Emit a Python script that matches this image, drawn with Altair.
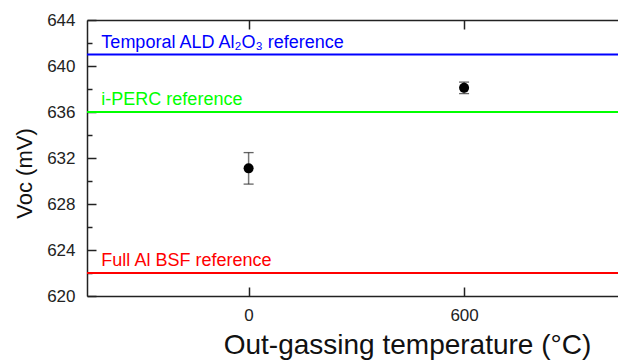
import altair as alt
import pandas as pd

# ---- data ----
temps = [0, 600]
voc = [631.1, 638.1]
voc_err = [1.37, 0.5]

ref_names = ["Temporal ALD Al₂O₃ reference", "i-PERC reference", "Full Al BSF reference"]
ref_values = [641, 636, 622]
ref_colors = ["#0000ff", "#00ff00", "#ff0000"]

x_ticks = [0, 600]
y_major = [620, 624, 628, 632, 636, 640, 644]
y_all = [620, 622, 624, 626, 628, 630, 632, 634, 636, 638, 640, 642, 644]

X_DOMAIN = [-450, 1028.6]
Y_DOMAIN = [620, 644]
W, H = 531, 276
FONT = "Liberation Sans"
DARK = "#222222"

pts = pd.DataFrame({
    "t": temps,
    "v": voc,
    "lo": [a - b for a, b in zip(voc, voc_err)],
    "hi": [a + b for a, b in zip(voc, voc_err)],
})
refs = pd.DataFrame({"name": ref_names, "v": ref_values, "c": ref_colors})

xs = alt.Scale(domain=X_DOMAIN, nice=False, zero=False)
ys = alt.Scale(domain=Y_DOMAIN, nice=False, zero=False)

x_main = alt.Axis(values=x_ticks, ticks=False, tickSize=0, domain=True, domainColor=DARK,
                  domainWidth=1.5, grid=False,
                  labelFontSize=17, labelColor=DARK, labelFont=FONT, labelPadding=11,
                  title="Out-gassing temperature (°C)", titleFont=FONT, titleFontSize=28,
                  titleFontWeight="normal", titleColor="#111111",
                  titleX=320, titleY=57, titleBaseline="alphabetic", titleAnchor="middle")
y_main = alt.Axis(values=y_major, ticks=False, tickSize=0, domain=True, domainColor=DARK,
                  domainWidth=1.5, grid=False,
                  labelFontSize=17, labelColor=DARK, labelFont=FONT, labelPadding=12,
                  title="Voc (mV)", titleFont=FONT, titleFontSize=22,
                  titleFontWeight="normal", titleColor="#111111",
                  titleX=-63, titleY=153, titleBaseline="middle", titleAlign="center")

rules = alt.Chart(refs).mark_rule(strokeWidth=2).encode(
    y=alt.Y("v:Q", scale=ys, axis=y_main),
    color=alt.Color("c:N", scale=None),
)
texts = alt.Chart(refs).mark_text(align="left", baseline="alphabetic", dy=-7,
                                  fontSize=18, font=FONT).encode(
    x=alt.datum(-410, scale=xs, axis=x_main),
    y=alt.Y("v:Q", scale=ys),
    text="name:N",
    color=alt.Color("c:N", scale=None),
)
bars = alt.Chart(pts).mark_rule(color="#777777", strokeWidth=1.5).encode(
    x=alt.X("t:Q", scale=xs),
    y=alt.Y("lo:Q", scale=ys),
    y2="hi:Q",
)
caps_hi = alt.Chart(pts).mark_tick(color=DARK, thickness=1.3, size=10, orient="horizontal").encode(
    x=alt.X("t:Q", scale=xs), y=alt.Y("hi:Q", scale=ys))
caps_lo = alt.Chart(pts).mark_tick(color=DARK, thickness=1.3, size=10, orient="horizontal").encode(
    x=alt.X("t:Q", scale=xs), y=alt.Y("lo:Q", scale=ys))
dots = alt.Chart(pts).mark_circle(size=100, color="#000000", opacity=1).encode(
    x=alt.X("t:Q", scale=xs, axis=x_main),
    y=alt.Y("v:Q", scale=ys),
)
main = alt.layer(rules, texts, bars, caps_hi, caps_lo, dots)

# inward ticks: bottom edge (up) and left edge (right)
tick_cond = alt.condition("datum.value % 4 === 0", alt.value(9), alt.value(5))
ticks_a = alt.Chart(pts).mark_point(opacity=0).encode(
    x=alt.X("t:Q", scale=xs, axis=alt.Axis(orient="top", offset=-H, values=x_ticks, labels=False,
                                           domain=False, grid=False, title=None,
                                           tickSize=9, tickWidth=1.5, tickColor=DARK)),
    y=alt.Y("v:Q", scale=ys, axis=alt.Axis(orient="right", offset=-W, values=y_all, labels=False,
                                           domain=False, grid=False, title=None,
                                           tickSize=tick_cond, tickWidth=1.5, tickColor=DARK)),
)
# top edge: frame line plus inward ticks (down)
ticks_b = alt.Chart(pts).mark_point(opacity=0).encode(
    x=alt.X("t:Q", scale=xs, axis=alt.Axis(orient="bottom", offset=-H, values=x_ticks, labels=False,
                                           domain=True, domainColor=DARK, domainWidth=1.5,
                                           grid=False, title=None,
                                           tickSize=9, tickWidth=1.5, tickColor=DARK)),
    y=alt.Y("v:Q", scale=ys, axis=None),
)

chart = alt.layer(main, ticks_a, ticks_b).resolve_scale(
    x="independent", y="independent"
).resolve_axis(x="independent", y="independent").properties(
    width=W, height=H,
    autosize=alt.AutoSizeParams(type="none"),
    padding={"left": 87, "top": 20, "right": 0, "bottom": 64},
    background="#ffffff",
).configure_view(stroke=None)

chart.save("out.html", embed_options={"renderer": "svg", "actions": False})
